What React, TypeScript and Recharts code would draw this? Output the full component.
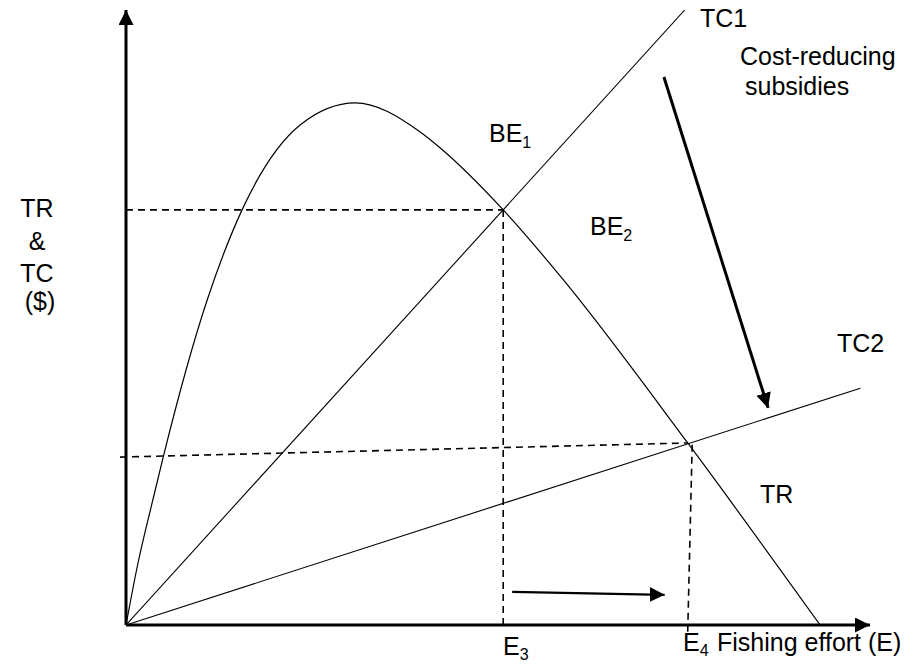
import React from "react";
import { LineChart, Line, XAxis, YAxis, ReferenceLine } from "recharts";

// ---------------------------------------------------------------------------
// Data (effort and money in arbitrary 0-100 units)
// ---------------------------------------------------------------------------

const trEffort = [0, 1.6, 3.6, 5.0, 10.9, 15.6, 23.4, 30.8, 39.5, 42.2, 50.7, 58.6, 75.5, 93.3];
const trRevenue = [0, 10.0, 20.3, 27.3, 52.8, 67.5, 81.3, 84.9, 80.2, 77.6, 67.5, 56.4, 29.6, 0];

const tc1Effort = [0, 75.1];
const tc1Cost = [0, 100];

const tc2Effort = [0, 98.7];
const tc2Cost = [0, 38.5];

// breakeven points
const be1 = { x: 50.7, y: 67.5 };
const be2 = { x: 75.5, y: 29.6 };

// dashed guides: [x1, y1, x2, y2]
const guides: [number, number, number, number][] = [
  [0, be1.y, be1.x, be1.y],
  [be1.x, be1.y, be1.x, 0],
  [-0.8, 27.3, be2.x, be2.y],
  [76.1, 29.3, 75.5, -1.1],
];

// arrows: [x1, y1, x2, y2]
const subsidyArrow: [number, number, number, number] = [72.3, 89.1, 86.3, 35.3];
const effortArrow: [number, number, number, number] = [51.9, 5.4, 72.4, 4.9];

const toPoints = (xs: number[], ys: number[]) => xs.map((x, i) => ({ x, y: ys[i] }));

const trData = toPoints(trEffort, trRevenue);
const tc1Data = toPoints(tc1Effort, tc1Cost);
const tc2Data = toPoints(tc2Effort, tc2Cost);

const FONT = "'Liberation Sans', Arial, sans-serif";
const FS = 25;
const SUB = 16;

export default function App() {
  return (
    <div style={{ position: "absolute", left: 0, top: 0, width: 921, height: 664, background: "#fff" }}>
      <LineChart
        width={921}
        height={664}
        margin={{ top: 10, right: 51, bottom: 39, left: 126 }}
      >
        <defs>
          <marker
            id="head"
            markerUnits="userSpaceOnUse"
            markerWidth={16}
            markerHeight={16}
            refX={15}
            refY={7.5}
            orient="auto"
          >
            <path d="M0,0 L15,7.5 L0,15 z" fill="#000" />
          </marker>
        </defs>
        <XAxis type="number" dataKey="x" domain={[0, 100]} hide allowDataOverflow />
        <YAxis type="number" dataKey="y" domain={[0, 100]} hide allowDataOverflow />

        {/* axes */}
        <ReferenceLine
          segment={[{ x: 0, y: 0 }, { x: 0, y: 100 }]}
          stroke="#000"
          strokeWidth={3}
          ifOverflow="visible"
          markerEnd="url(#head)"
        />
        <ReferenceLine
          segment={[{ x: 0, y: 0 }, { x: 100, y: 0 }]}
          stroke="#000"
          strokeWidth={3}
          ifOverflow="visible"
          markerEnd="url(#head)"
        />

        {guides.map(([x1, y1, x2, y2], i) => (
          <ReferenceLine
            key={i}
            segment={[{ x: x1, y: y1 }, { x: x2, y: y2 }]}
            stroke="#000"
            strokeWidth={1.6}
            strokeDasharray="7 5"
            ifOverflow="visible"
          />
        ))}

        <Line data={trData} dataKey="y" type="monotone" stroke="#000" strokeWidth={1.2} dot={false} isAnimationActive={false} />
        <Line data={tc1Data} dataKey="y" type="linear" stroke="#000" strokeWidth={1.1} dot={false} isAnimationActive={false} />
        <Line data={tc2Data} dataKey="y" type="linear" stroke="#000" strokeWidth={1.1} dot={false} isAnimationActive={false} />

        <ReferenceLine
          segment={[{ x: subsidyArrow[0], y: subsidyArrow[1] }, { x: subsidyArrow[2], y: subsidyArrow[3] }]}
          stroke="#000"
          strokeWidth={3}
          ifOverflow="visible"
          markerEnd="url(#head)"
        />
        <ReferenceLine
          segment={[{ x: effortArrow[0], y: effortArrow[1] }, { x: effortArrow[2], y: effortArrow[3] }]}
          stroke="#000"
          strokeWidth={2.2}
          ifOverflow="visible"
          markerEnd="url(#head)"
        />
      </LineChart>

      {/* labels */}
      <svg
        width={921}
        height={664}
        style={{ position: "absolute", left: 0, top: 0, pointerEvents: "none" }}
        fontFamily={FONT}
        fontSize={FS}
        fill="#000"
      >
        <text x={700} y={27}>TC1</text>
        <text x={740} y={65}>Cost-reducing</text>
        <text x={745} y={95}>subsidies</text>

        <text x={489} y={142}>BE<tspan fontSize={SUB} dy={6}>1</tspan></text>
        <text x={590} y={235}>BE<tspan fontSize={SUB} dy={6}>2</tspan></text>

        <text x={37} y={217} textAnchor="middle">TR</text>
        <text x={37} y={250} textAnchor="middle">&amp;</text>
        <text x={37} y={282} textAnchor="middle">TC</text>
        <text x={40} y={310} textAnchor="middle">($)</text>

        <text x={837} y={352}>TC2</text>
        <text x={760} y={503}>TR</text>

        <text x={503} y={655}>E<tspan fontSize={SUB} dy={5}>3</tspan></text>
        <text x={683} y={651}>E<tspan fontSize={SUB} dy={5}>4</tspan></text>
        <text x={717} y={651}>Fishing effort (E)</text>
      </svg>
    </div>
  );
}
